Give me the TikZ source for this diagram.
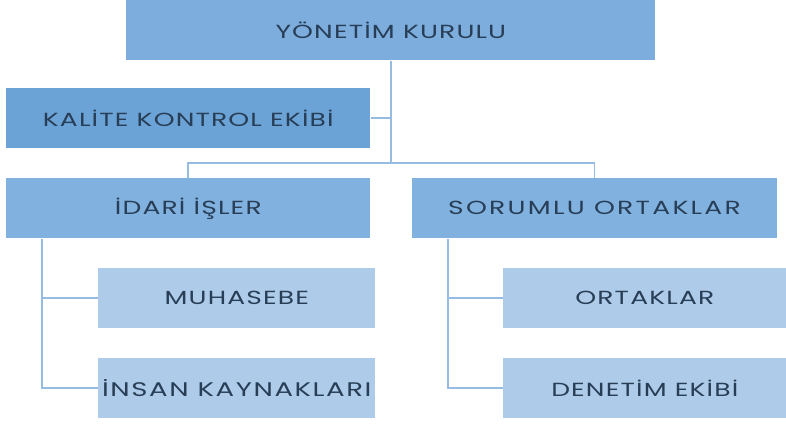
\documentclass[tikz,border=0pt]{standalone}
\usepackage{fontspec}
\setmainfont{Poppins}[FakeStretch=1.4, LetterSpace=6]
\usetikzlibrary{positioning}

\definecolor{boardblue}{RGB}{124,173,221}
\definecolor{teamblue}{RGB}{107,163,214}
\definecolor{deptblue}{RGB}{129,177,223}
\definecolor{unitblue}{RGB}{174,203,233}
\definecolor{linkblue}{RGB}{150,188,228}
\definecolor{labelgray}{RGB}{40,62,86}

\tikzset{
	box/.style={inner sep=0pt, minimum height=1.5cm, text=labelgray, font=\fontsize{13.5}{16}\selectfont, anchor=north west},
	board/.style={box, fill=boardblue},
	team/.style={box, fill=teamblue},
	dept/.style={box, fill=deptblue},
	unit/.style={box, fill=unitblue},
	link/.style={draw=linkblue, line width=1.4pt}
}

\begin{document}
\begin{tikzpicture}[x=0.025cm, y=-0.025cm]

	\useasboundingbox (0,0) rectangle (786,423);

	\node (yonetim) [board, minimum width=13.225cm] at (126,0) {YÖNETİM KURULU};
	\node (kalite) [team, minimum width=9.1cm] at (6,88) {KALİTE KONTROL EKİBİ};

	\node (idari) [dept, minimum width=9.1cm] at (6,178) {İDARİ İŞLER};
	\node (sorumlu) [dept, minimum width=9.125cm, right=1.025cm of idari.north east, anchor=north west, font=\fontsize{13.5}{16}\selectfont\addfontfeature{LetterSpace=12}] {SORUMLU ORTAKLAR};

	\node (muhasebe) [unit, minimum width=6.925cm] at (98,268) {MUHASEBE};
	\node (insan) [unit, minimum width=6.925cm, below=0.725cm of muhasebe.south west, anchor=north west, font=\fontsize{14}{17}\selectfont\addfontfeature{LetterSpace=8}] {İNSAN KAYNAKLARI};

	\node (ortaklar) [unit, minimum width=7.075cm] at (503,268) {ORTAKLAR};
	\node (denetim) [unit, minimum width=7.075cm, below=0.725cm of ortaklar.south west, anchor=north west] {DENETİM EKİBİ};

	% kurul -> birimler
	\coordinate (split) at ([yshift=0.375cm]yonetim.south |- idari.north);
	\path[link] (yonetim.south) -- (split);
	\path[link] (kalite.east) -- (kalite.east -| yonetim.south);
	\path[link] (idari.north) |- (split) -| (sorumlu.north);

	% alt birimler
	\coordinate (idari_rail) at ([xshift=0.9cm]idari.south west);
	\path[link] (idari_rail) |- (muhasebe.west);
	\path[link] (idari_rail) |- (insan.west);

	\coordinate (sorumlu_rail) at ([xshift=0.9cm]sorumlu.south west);
	\path[link] (sorumlu_rail) |- (ortaklar.west);
	\path[link] (sorumlu_rail) |- (denetim.west);

\end{tikzpicture}
\end{document}
